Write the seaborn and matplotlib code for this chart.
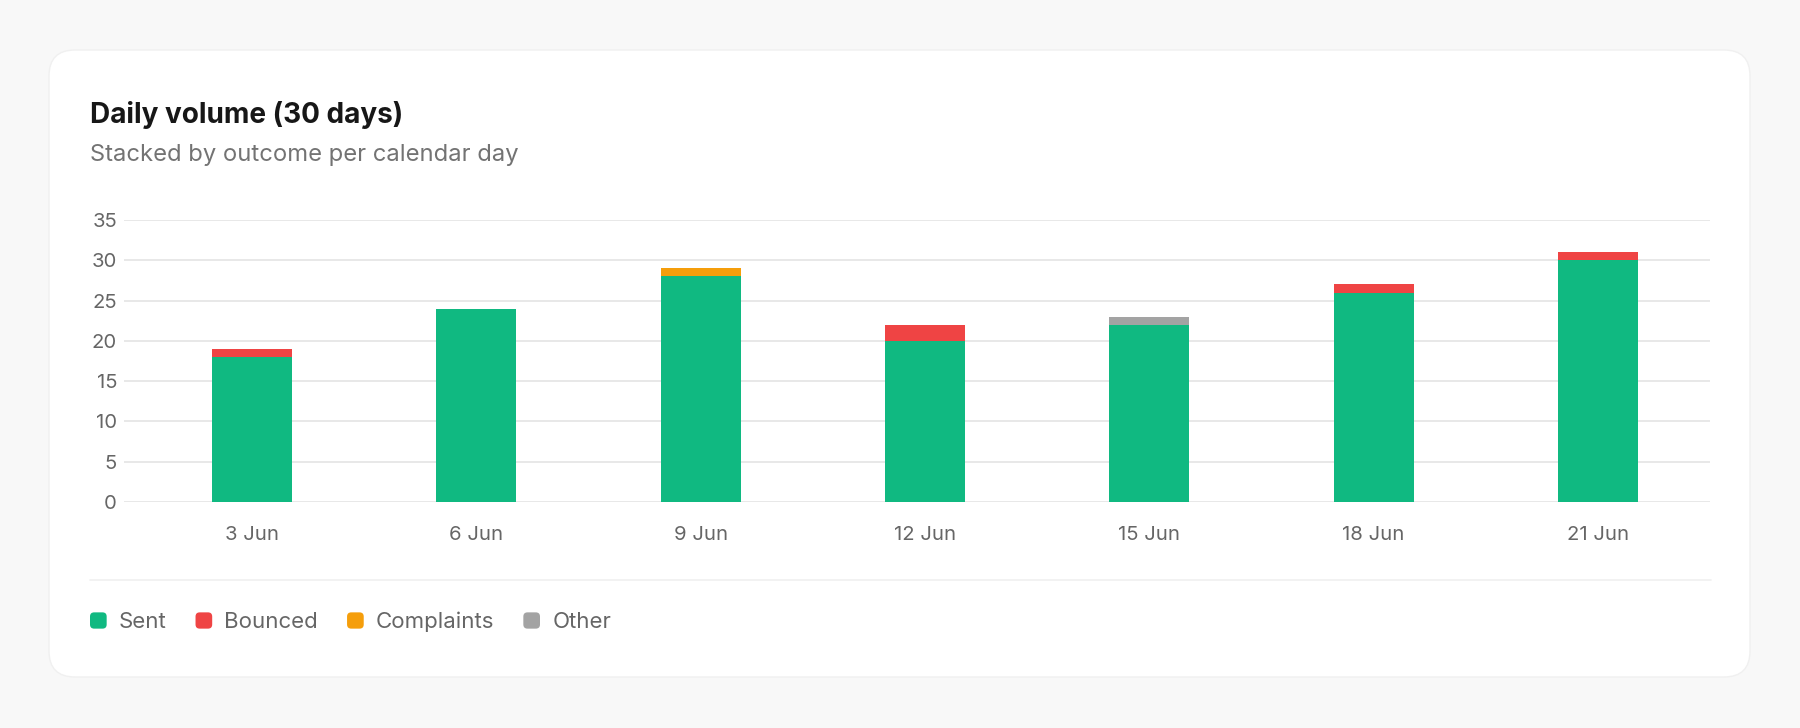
import matplotlib
matplotlib.use("Agg")
import matplotlib.pyplot as plt
import matplotlib.patches as mpatches
from matplotlib.patches import FancyBboxPatch
from matplotlib.legend_handler import HandlerPatch
import seaborn as sns
import pandas as pd

# Chart data
days = ["3 Jun", "6 Jun", "9 Jun", "12 Jun", "15 Jun", "18 Jun", "21 Jun"]
sent = [18, 24, 28, 20, 22, 26, 30]
bounced = [1, 0, 0, 2, 0, 1, 1]
complaints = [0, 0, 1, 0, 0, 0, 0]
other = [0, 0, 0, 0, 1, 0, 0]
y_ticks = [0, 5, 10, 15, 20, 25, 30, 35]

series_names = ["Sent", "Bounced", "Complaints", "Other"]
colors = {"Sent": "#10b981", "Bounced": "#ef4444",
          "Complaints": "#f59e0b", "Other": "#a3a3a3"}

df = pd.DataFrame({"day": days, "Sent": sent, "Bounced": bounced,
                   "Complaints": complaints, "Other": other})


class RoundSwatch(HandlerPatch):
    """Legend swatch with slightly rounded corners"""
    def create_artists(self, legend, orig_handle, xdescent, ydescent,
                       width, height, fontsize, trans):
        p = FancyBboxPatch((-xdescent, -ydescent), width, height,
                           boxstyle="round,pad=0,rounding_size=3",
                           facecolor=orig_handle.get_facecolor(),
                           edgecolor="none", transform=trans)
        return [p]


sns.set_theme(style="white")
plt.rcParams["font.family"] = ["Inter", "DejaVu Sans"]

W, H = 1800, 728
fig = plt.figure(figsize=(W / 100, H / 100), dpi=100)
fig.patch.set_facecolor("#f8f8f8")

# Background card, drawn in pixel-like coordinates
bg = fig.add_axes([0, 0, 1, 1], zorder=0)
bg.set_xlim(0, W)
bg.set_ylim(H, 0)
bg.axis("off")
bg.add_patch(FancyBboxPatch((49, 50), 1701, 627,
                            boxstyle="round,pad=0,rounding_size=26",
                            facecolor="white", edgecolor="#f0f0f0", linewidth=1))
bg.plot([90, 1711], [580, 580], color="#f0f0f0", linewidth=1.2)

# Plot area
ax = fig.add_axes([124 / W, 1 - 502 / H, (1710 - 124) / W, (502 - 220) / H], zorder=1)
ax.set_facecolor("none")

# Stack by drawing cumulative totals, largest first
cum = df["Sent"] + df["Bounced"] + df["Complaints"] + df["Other"]
layers = []
for name in reversed(series_names):
    layers.append((name, cum.copy()))
    cum = cum - df[name]
for name, vals in layers:
    sns.barplot(x=df["day"], y=vals, color=colors[name], saturation=1,
                width=0.357, linewidth=0, ax=ax, zorder=3)

ax.set_ylim(0, 35)
ax.set_xlim(-0.571, 6.5)
ax.set_yticks(y_ticks)
ax.set_xlabel("")
ax.set_ylabel("")
ax.grid(axis="y", color="#e6e6e6", linewidth=1.3, zorder=0)
ax.grid(axis="x", visible=False)
for s in ax.spines.values():
    s.set_visible(False)
ax.tick_params(axis="both", length=0, labelcolor="#666666", labelsize=14.6)
ax.tick_params(axis="y", pad=5)
ax.tick_params(axis="x", pad=17)

# Title and subtitle
fig.text(90 / W, 1 - 123 / H, "Daily volume (30 days)", fontsize=20.1,
         fontweight="bold", color="#171717", va="baseline")
fig.text(90 / W, 1 - 161 / H, "Stacked by outcome per calendar day",
         fontsize=17.1, color="#737373", va="baseline")

# Legend
handles = [mpatches.Patch(facecolor=colors[n], label=n) for n in series_names]
leg = fig.legend(handles=handles, loc="center left",
                 bbox_to_anchor=(90 / W, 1 - 622 / H), ncol=4, frameon=False,
                 fontsize=16, handlelength=0.75, handleheight=0.75,
                 handletextpad=0.55, columnspacing=1.3, borderpad=0,
                 borderaxespad=0,
                 handler_map={mpatches.Patch: RoundSwatch()})
for t in leg.get_texts():
    t.set_color("#666666")

fig.savefig("out.png", dpi=100, facecolor=fig.get_facecolor())
